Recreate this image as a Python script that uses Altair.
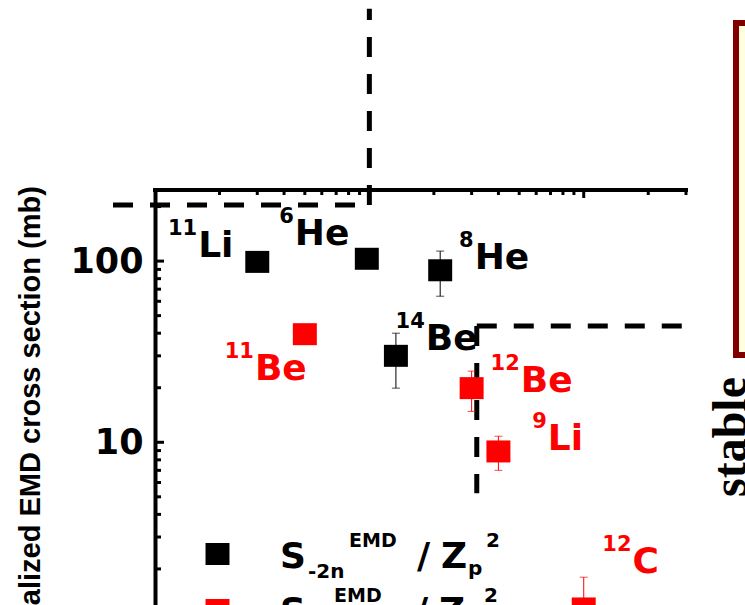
import altair as alt
import pandas as pd

SANS = "DejaVu Sans"
TITLE_FONT = "Liberation Sans"
SERIF = "Liberation Serif"

# ---------------- data ----------------
mass_number = ["11", "6", "8", "14", "11", "12", "9", "12"]
element = ["Li", "He", "He", "Be", "Be", "Be", "Li", "C"]
channel = ["2n", "2n", "2n", "2n", "1n", "1n", "1n", "1n"]
separation_energy = [0.30, 0.973, 2.14, 1.33, 0.50, 3.0, 4.0, 10.0]      # MeV
cross_section = [99.0, 103.0, 89.0, 30.0, 39.5, 19.9, 8.9, 1.21]         # mb
error_high = [None, None, 113.6, 40.0, None, 24.7, 10.8, 1.80]
error_low = [None, None, 64.0, 19.9, None, 14.8, 7.0, 0.70]
label_energy = [0.159, 0.449, 3.10, 1.834, 0.2925, 5.085, 6.795, 16.9]
label_cross_section = [105.0, 122.7, 90.4, 32.25, 22.0, 18.9, 9.04, 1.89]

# dashed threshold lines (start point -> end point)
threshold_x = [0.0637, 1.0, 3.17, 3.17]
threshold_x2 = [1.0, 1.0, 3.17, 30.0]
threshold_y = [204.0, 204.0, 43.8, 43.8]
threshold_y2 = [204.0, 2470.0, 5.23, 43.8]

x_domain = [0.1, 30]
y_domain = [0.5, 250]
y_tick_labels = [10, 100]
x_major_ticks = [1, 10]
x_minor_ticks = [0.2, 0.3, 0.4, 0.5, 0.6, 0.7, 0.8, 0.9, 2, 3, 4, 5, 6, 7, 8, 9, 20, 30]
y_major_ticks = [10, 100]
y_minor_ticks = [2, 3, 4, 5, 6, 7, 8, 9, 20, 30, 40, 50, 60, 70, 80, 90, 200]

legend_channel = ["2n", "1n"]
legend_subscript = ["-2n", "-n"]
y_axis_title = "Normalized EMD cross section (mb)"
side_label = "stable"

# ---------------- chart ----------------
W, H = 531, 416
x_scale = alt.Scale(type="log", domain=x_domain, nice=False)
y_scale = alt.Scale(type="log", domain=y_domain, range=[489, 0], nice=False)
y_axis = alt.Axis(values=y_tick_labels, format="d", ticks=False, grid=False,
                  domainColor="black", domainWidth=4,
                  labelFont=SANS, labelFontSize=35, labelFontWeight="bold",
                  labelColor="black", labelPadding=12,
                  title=y_axis_title, titleFont=TITLE_FONT, titleFontSize=29,
                  titleFontWeight="bold", titleColor="black",
                  titleX=-116, titleY=244, titleBaseline="alphabetic")
color_enc = alt.Color("channel:N",
                      scale=alt.Scale(domain=["2n", "1n"], range=["#000000", "#ff0000"]),
                      legend=None)
SQUARE = "M-1.09,-1L1.09,-1L1.09,1L-1.09,1Z"

df = pd.DataFrame({
    "mass": mass_number, "element": element, "channel": channel,
    "energy": separation_energy, "sigma": cross_section,
    "hi": error_high, "lo": error_low,
    "lx": label_energy, "ly": label_cross_section,
})
df_err = df.dropna(subset=["hi", "lo"])


def X(f):
    return alt.X(f, scale=x_scale, axis=None)


def Y(f):
    return alt.Y(f, scale=y_scale, axis=y_axis)


base = alt.Chart(df)

points = base.mark_point(shape=SQUARE, size=484, filled=True, opacity=1, strokeWidth=0).encode(
    x=X("energy:Q"), y=Y("sigma:Q"), color=color_enc)

err_bars = alt.Chart(df_err).mark_rule(strokeWidth=1).encode(
    x=X("energy:Q"), y=Y("lo:Q"), y2="hi:Q", color=color_enc)
cap_hi = alt.Chart(df_err).mark_tick(orient="horizontal", size=8, thickness=1).encode(
    x=X("energy:Q"), y=Y("hi:Q"), color=color_enc)
cap_lo = alt.Chart(df_err).mark_tick(orient="horizontal", size=8, thickness=1).encode(
    x=X("energy:Q"), y=Y("lo:Q"), color=color_enc)

labels_main = base.mark_text(align="left", baseline="alphabetic", font=SANS,
                             fontSize=36, fontWeight="bold").encode(
    x=X("lx:Q"), y=Y("ly:Q"), text="element:N", color=color_enc)
labels_sup = base.mark_text(align="right", baseline="alphabetic", font=SANS,
                            fontSize=21, fontWeight="bold", dx=-1, dy=-22).encode(
    x=X("lx:Q"), y=Y("ly:Q"), text="mass:N", color=color_enc)

df_th = pd.DataFrame({"x": threshold_x, "x2": threshold_x2, "y": threshold_y, "y2": threshold_y2})
thresholds = alt.Chart(df_th).mark_rule(color="black", strokeWidth=5, strokeDash=[20, 17]).encode(
    x=X("x:Q"), x2="x2:Q", y=Y("y:Q"), y2="y2:Q")

# frame: top line and inward ticks
df_dom = pd.DataFrame({"a": [x_domain[0]], "b": [x_domain[1]]})
top_line = alt.Chart(df_dom).mark_rule(color="black", strokeWidth=4, strokeCap="square").encode(
    x=X("a:Q"), x2="b:Q", y=alt.value(1))


def xticks(vals, length):
    return alt.Chart(pd.DataFrame({"v": vals})).mark_rule(color="black", strokeWidth=3).encode(
        x=X("v:Q"), y=alt.value(0), y2=alt.value(length))


def yticks(vals, length):
    return alt.Chart(pd.DataFrame({"v": vals})).mark_rule(color="black", strokeWidth=3).encode(
        y=Y("v:Q"), x=alt.value(0), x2=alt.value(length))


ticks = [xticks(x_major_ticks, 9), xticks(x_minor_ticks, 6),
         yticks(y_major_ticks, 9), yticks(y_minor_ticks, 6)]

one = pd.DataFrame({"t": [""]})


def txt(text, x, y, size, color, font=SANS, align="left", angle=0):
    return alt.Chart(pd.DataFrame({"t": [text]})).mark_text(
        align=align, baseline="alphabetic", font=font, fontSize=size,
        fontWeight="bold", color=color, angle=angle).encode(
        x=alt.value(x), y=alt.value(y), text="t:N")


legend_layers = []
colors = {"2n": "#000000", "1n": "#ff0000"}
for i, (ch, sub) in enumerate(zip(legend_channel, legend_subscript)):
    dy = 55 * i
    c = colors[ch]
    legend_layers.append(
        alt.Chart(pd.DataFrame({"c": [ch]})).mark_point(
            shape=SQUARE, size=484, filled=True, opacity=1, strokeWidth=0, color=c).encode(
            x=alt.value(62.5), y=alt.value(365 + 56 * i)))
    legend_layers += [
        txt("S", 125, 379 + dy, 36, "black"),
        txt(sub, 153, 389 + dy, 20, "black"),
        txt("EMD", 194 - 15 * i, 358 + dy, 19, "black"),
        txt("/", 262 - 2 * i, 379 + dy, 36, "black"),
        txt("Z", 286 - 2 * i, 379 + dy, 36, "black"),
        txt("p", 313 - 2 * i, 386 + dy, 20, "black"),
        txt("2", 331 - 2 * i, 358 + dy, 20, "black"),
    ]

# neighbouring panel (partly visible at right edge)
side_box = alt.Chart(one).mark_rect(fill="#ffffe0", stroke="#800000", strokeWidth=6).encode(
    x=alt.value(581), x2=alt.value(680), y=alt.value(-166), y2=alt.value(166))
side_text = txt(side_label, 591, 248, 48, "black", font=SERIF, align="center", angle=270)

chart = alt.layer(
    side_box, side_text, thresholds, *ticks, top_line,
    err_bars, cap_hi, cap_lo, points, labels_main, labels_sup, *legend_layers,
).properties(
    width=W, height=H,
    autosize=alt.AutoSizeParams(type="none"),
    padding={"left": 155, "top": 189, "right": 59, "bottom": 0},
    background="white",
).configure_view(strokeWidth=0)

chart.save("out.html", embed_options={"renderer": "svg", "actions": False})
